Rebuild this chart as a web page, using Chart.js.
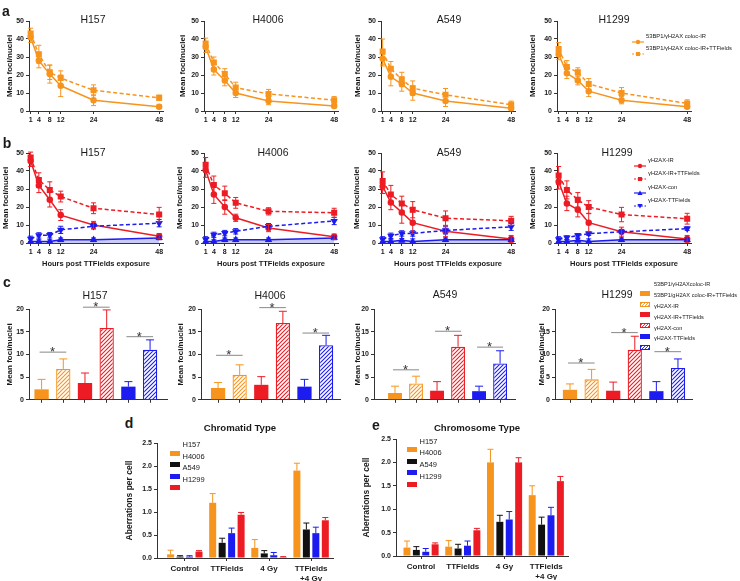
<!DOCTYPE html>
<html>
<head>
<meta charset="utf-8">
<script src="https://cdn.jsdelivr.net/npm/chart.js@4.4.0/dist/chart.umd.min.js"></script>
<style>
  body { margin: 0; background: #fff; width: 740px; height: 581px; position: relative; overflow: hidden;
         font-family: "Liberation Sans", Arial, sans-serif; color: #1a1a1a; }
  canvas { position: absolute; }
  .t { position: absolute; transform: translate(-50%, -50%); white-space: nowrap; }
  .l { position: absolute; transform: translateY(-50%); white-space: nowrap; }
  .sw { position: absolute; }
</style>
</head>
<body>
<script>
// ---- data ----
const hours = [1, 4, 8, 12, 24, 48];
const cellLines = ['H157', 'H4006', 'A549', 'H1299'];

// a: 53BP1/γH2AX co-localised foci
const colocIR = [
  [41, 28, 20.5, 14, 6, 2.4],
  [35.5, 23, 17, 10, 5.5, 2.8],
  [29, 19, 15, 10, 5.5, 1.5],
  [31.5, 21, 17, 11, 6, 2.4]
];
const colocIRErr = [
  [3, 4, 5, 6, 3, 1],
  [3, 3, 3, 2.5, 2, 1],
  [4, 5, 4, 4, 3, 1],
  [3, 3, 2.5, 3, 2, 1]
];
const colocIRTT = [
  [43, 31.5, 21.5, 18.3, 11.5, 7.3],
  [37.5, 27, 20.5, 13, 9.5, 6],
  [33, 23.5, 17.5, 12.7, 9, 3.5],
  [34.5, 24.5, 21.5, 15, 10, 4.2]
];
const colocIRTTErr = [
  [3, 5, 4, 4, 3, 1.5],
  [3, 3, 3, 3, 2.5, 2],
  [7, 4, 4, 4, 3.5, 2],
  [3.5, 3.5, 2.5, 3, 3, 2]
];

// b: γH2AX foci
const h2axIR = [
  [45.5, 32, 24, 15.5, 10, 3.8],
  [40.5, 27, 20, 14, 8.3, 3.5],
  [31.5, 22.5, 17, 11.3, 6.5, 2.2],
  [34, 22, 18.5, 11.3, 6.3, 2.2]
];
const h2axIRErr = [
  [3, 4, 4, 3, 2, 1.5],
  [4, 5, 4, 2, 2, 1.5],
  [4, 4, 6, 6, 3, 2],
  [4, 4, 4, 5, 2.5, 2]
];
const h2axIRTT = [
  [47.5, 35, 29.5, 25.8, 19.3, 15.8],
  [43.5, 32.2, 27.6, 22.3, 17.6, 16.8],
  [34.5, 27, 22, 18.5, 13.8, 12.3],
  [37.5, 29.5, 24, 20, 15.8, 13.5]
];
const h2axIRTTErr = [
  [3, 4, 4.5, 3, 3, 4],
  [4, 5, 4, 3, 2, 2.5],
  [5, 5, 4, 4.5, 4, 2.5],
  [5, 5, 4, 3.5, 4, 3]
];
const h2axCon = [
  [0.8, 0.8, 0.8, 1.8, 1.8, 2.8],
  [0.8, 0.8, 1.8, 1.8, 1.8, 2.8],
  [0.8, 0.8, 1.5, 0.8, 1.8, 1.8],
  [0.8, 0.8, 1.5, 0.8, 1.8, 1.8]
];
const h2axConErr = [
  [1.5, 1, 1, 1, 1, 1],
  [1.5, 1, 1, 1, 1, 1],
  [1.5, 1, 1, 1.5, 1, 1],
  [1.5, 1, 1, 1.5, 1, 1]
];
const h2axTT = [
  [2.3, 4.2, 4.3, 7.3, 9.3, 11],
  [2, 4.5, 5.5, 6.5, 9.3, 12.2],
  [2, 4, 5.3, 5.3, 7, 9],
  [2, 3, 4.2, 5.2, 6.2, 8]
];
const h2axTTErr = [
  [1.5, 1.5, 1.5, 2, 1.5, 2],
  [1.5, 1.5, 1.5, 1.5, 1.5, 2],
  [1.5, 1.5, 1.5, 1.5, 2, 2],
  [1.5, 1, 1, 1, 1, 1]
];

// c: foci at 24 h (order: coloc-IR, coloc-IR+TTF, γH2AX-IR, γH2AX-IR+TTF, con, TTF)
const fociBars = [
  [2.3, 6.8, 3.7, 15.8, 2.9, 11.0],
  [2.6, 5.5, 3.3, 16.9, 2.9, 12.0],
  [1.5, 3.6, 2.0, 11.7, 1.9, 8.0],
  [2.2, 4.5, 2.0, 11.0, 1.9, 7.0]
];
const fociBarsErr = [
  [2.2, 2.2, 2.2, 4.0, 1.1, 2.2],
  [1.2, 2.2, 1.8, 2.6, 1.6, 2.2],
  [1.5, 1.6, 2.0, 2.5, 1.1, 2.8],
  [1.3, 2.2, 1.9, 3.0, 2.1, 2.0]
];
const sigLevels = [
  [10.5, 20.4, 13.9],
  [9.8, 20.3, 14.7],
  [6.6, 15.1, 11.6],
  [8.1, 14.8, 10.6]
];
const fociLegend = ['53BP1/γH2AXcoloc-IR', '53BP1/gH2AX coloc-IR+TTFields', 'γH2AX-IR',
                    'γH2AX-IR+TTFields', 'γH2AX-con', 'γH2AX-TTFields'];

// d, e: aberrations per cell
const treatments = ['Control', 'TTFields', '4 Gy', ['TTFields', '+4 Gy']];
const chromatid = [
  [0.08, 1.2, 0.22, 1.9],
  [0.03, 0.33, 0.1, 0.62],
  [0.03, 0.54, 0.06, 0.54],
  [0.14, 0.94, 0.02, 0.82]
];
const chromatidErr = [
  [0.09, 0.2, 0.18, 0.16],
  [0.02, 0.1, 0.06, 0.14],
  [0.02, 0.11, 0.06, 0.13],
  [0.02, 0.05, 0.01, 0.06]
];
const chromosome = [
  [0.18, 0.2, 2.0, 1.3],
  [0.13, 0.16, 0.73, 0.67],
  [0.09, 0.22, 0.78, 0.87],
  [0.25, 0.55, 2.0, 1.6]
];
const chromosomeErr = [
  [0.14, 0.13, 0.28, 0.2],
  [0.07, 0.09, 0.14, 0.16],
  [0.07, 0.1, 0.17, 0.17],
  [0.03, 0.04, 0.1, 0.1]
];

// ---- style ----
const FONT = '"Liberation Sans", Arial, sans-serif';
const AX = '#333';
const ORANGE = '#f7941d';
const RED = '#ed1c24';
const BLUE = '#1c1cf0';
const BLACK = '#111';
const cellColors = [ORANGE, BLACK, BLUE, RED];

const hatch = (color) => {
  const c = document.createElement('canvas');
  c.width = 4; c.height = 4;
  const g = c.getContext('2d');
  g.fillStyle = '#fff';
  g.fillRect(0, 0, 4, 4);
  g.strokeStyle = color;
  g.lineWidth = 1.1;
  g.beginPath();
  g.moveTo(0, 4); g.lineTo(4, 0);
  g.moveTo(-1, 1); g.lineTo(1, -1);
  g.moveTo(3, 5); g.lineTo(5, 3);
  g.stroke();
  return g.createPattern(c, 'repeat');
};

// error bars drawn from the dataset's own scale
const errorBars = {
  id: 'errorBars',
  afterDatasetsDraw(chart) {
    const ctx = chart.ctx;
    const ys = chart.scales.y;
    chart.data.datasets.forEach((ds, i) => {
      if (!ds.errors) return;
      const meta = chart.getDatasetMeta(i);
      ctx.save();
      ctx.lineWidth = 1;
      meta.data.forEach((el, j) => {
        const e = ds.errors[j];
        const v = ds.data[j].y;
        const col = Array.isArray(ds.errColor) ? ds.errColor[j] : ds.errColor;
        const hi = ys.getPixelForValue(v + e);
        const lo = ds.upOnly ? el.y : ys.getPixelForValue(Math.max(v - e, 0));
        const cap = ds.cap || 2.5;
        ctx.strokeStyle = col;
        ctx.beginPath();
        ctx.moveTo(el.x, lo); ctx.lineTo(el.x, hi);
        ctx.moveTo(el.x - cap, hi); ctx.lineTo(el.x + cap, hi);
        if (!ds.upOnly) { ctx.moveTo(el.x - cap, lo); ctx.lineTo(el.x + cap, lo); }
        ctx.stroke();
      });
      ctx.restore();
    });
  }
};

// significance lines with a star over each bar pair
const sigMarks = {
  id: 'sigMarks',
  afterDatasetsDraw(chart, args, opts) {
    if (!opts.levels) return;
    const { ctx, scales: { x, y } } = chart;
    ctx.save();
    opts.levels.forEach((h, k) => {
      const a = x.getPixelForValue(2 * k + 1);
      const b = x.getPixelForValue(2 * k + 2);
      const py = y.getPixelForValue(h);
      ctx.strokeStyle = '#888';
      ctx.lineWidth = 1;
      ctx.beginPath();
      ctx.moveTo(a - 2, py); ctx.lineTo(b + 3, py);
      ctx.stroke();
      ctx.fillStyle = '#333';
      ctx.font = '13px ' + FONT;
      ctx.textAlign = 'center';
      ctx.fillText('*', (a + b) / 2, py + 4);
    });
    ctx.restore();
  }
};

// ---- layout helpers ----
const mkCanvas = (left, top, w, h) => {
  const c = document.createElement('canvas');
  c.width = w; c.height = h;
  c.style.left = left + 'px'; c.style.top = top + 'px';
  c.style.width = w + 'px'; c.style.height = h + 'px';
  document.body.appendChild(c);
  return c;
};

const addText = (txt, x, y, css, cls) => {
  const d = document.createElement('div');
  d.className = cls || 't';
  d.textContent = txt;
  d.style.left = x + 'px';
  d.style.top = y + 'px';
  Object.assign(d.style, css || {});
  document.body.appendChild(d);
};

let patId = 0;
const addSwatch = (x, y, w, h, inner) => {
  const d = document.createElement('div');
  d.className = 'sw';
  d.style.left = x + 'px'; d.style.top = y + 'px';
  d.innerHTML = `<svg width="${w}" height="${h}" xmlns="http://www.w3.org/2000/svg">${inner}</svg>`;
  document.body.appendChild(d);
};

const markerSvg = (kind, cx, cy, color) => {
  if (kind === 'circle') return `<circle cx="${cx}" cy="${cy}" r="2.2" fill="${color}"/>`;
  if (kind === 'rect') return `<rect x="${cx - 2}" y="${cy - 2}" width="4" height="4" fill="${color}"/>`;
  if (kind === 'tri') return `<path d="M${cx},${cy - 2.5} L${cx + 2.6},${cy + 2} L${cx - 2.6},${cy + 2} Z" fill="${color}"/>`;
  return `<path d="M${cx},${cy + 2.5} L${cx + 2.6},${cy - 2} L${cx - 2.6},${cy - 2} Z" fill="${color}"/>`;
};

const lineLegend = (x, y, color, dashed, marker, text, fs) => {
  const dash = dashed ? ' stroke-dasharray="2,1.5"' : '';
  addSwatch(x, y - 4, 12, 8,
    `<line x1="0" y1="4" x2="12" y2="4" stroke="${color}" stroke-width="1.2"${dash}/>` + markerSvg(marker, 6, 4, color));
  addText(text, x + 14, y, { fontSize: fs + 'px' }, 'l');
};

const boxLegend = (x, y, w, h, color, hatched, text, fs, gap) => {
  let inner;
  if (hatched) {
    const id = 'hp' + (patId++);
    inner = `<defs><pattern id="${id}" width="3" height="3" patternUnits="userSpaceOnUse">` +
      `<rect width="3" height="3" fill="#fff"/><path d="M0,3 L3,0 M-1,1 L1,-1 M2,4 L4,2" stroke="${color}" stroke-width="0.9"/></pattern></defs>` +
      `<rect x="0.5" y="0.5" width="${w - 1}" height="${h - 1}" fill="url(#${id})" stroke="${color}" stroke-width="1"/>`;
  } else {
    inner = `<rect x="0" y="0" width="${w}" height="${h}" fill="${color}"/>`;
  }
  addSwatch(x, y - h / 2, w, h, inner);
  addText(text, x + w + gap, y, { fontSize: fs + 'px' }, 'l');
};

const tickFont = { family: FONT, size: 7, weight: 'bold' };
const axisGrid = { drawOnChartArea: false, drawTicks: true, tickLength: 3, color: AX, lineWidth: 1, offset: false };
const axisBorder = { display: true, color: AX, width: 1 };

// area = chart area in page pixels; titleX = centre of y title
const frame = (area, titleX, titleSize, xH) => {
  const padT = 10, padR = 10;
  const left = Math.round(titleX - titleSize * 0.6);
  return {
    left, top: area.top - padT,
    w: area.right + padR - left,
    h: area.bottom + xH - area.top + padT,
    yW: area.left - left, xH, padT, padR
  };
};

const baseOptions = (f) => ({
  responsive: false,
  animation: false,
  devicePixelRatio: 1,
  layout: { padding: { top: f.padT, right: f.padR, left: 0, bottom: 0 } },
  plugins: { legend: { display: false }, tooltip: { enabled: false } }
});

const yTitle = (text, size) => ({
  display: true, text, color: '#1a1a1a', padding: { top: 0, bottom: 0 },
  font: { family: FONT, size, weight: 'bold' }
});

// ---- line charts (rows a and b) ----
const lineChart = (area, titleX, withXTitle, datasets) => {
  const xH = withXTitle ? 25 : 14;
  const f = frame(area, titleX, 8, xH);
  const cv = mkCanvas(f.left, f.top, f.w, f.h);
  const opts = baseOptions(f);
  opts.scales = {
    x: {
      type: 'linear', min: 0.4, max: 49.4, offset: false,
      afterBuildTicks: (s) => { s.ticks = hours.map((v) => ({ value: v })); },
      afterFit: (s) => { s.height = xH; },
      grid: axisGrid, border: axisBorder,
      ticks: { font: tickFont, color: '#1a1a1a', padding: 2, autoSkip: false, maxRotation: 0 },
      title: {
        display: withXTitle, text: 'Hours post TTFields exposure', color: '#1a1a1a',
        padding: { top: 0, bottom: 0 }, font: { family: FONT, size: 7.5, weight: 'bold' }
      }
    },
    y: {
      min: 0, max: 50,
      afterFit: (s) => { s.width = f.yW; },
      grid: axisGrid, border: axisBorder,
      ticks: { stepSize: 10, font: tickFont, color: '#1a1a1a', padding: 2 },
      title: yTitle('Mean foci/nuclei', 8)
    }
  };
  return new Chart(cv, { type: 'line', data: { datasets }, options: opts, plugins: [errorBars] });
};

const series = (vals, errs, color, dashed, marker, extra) => Object.assign({
  data: vals.map((v, i) => ({ x: hours[i], y: v })),
  errors: errs, errColor: color,
  borderColor: color, backgroundColor: color,
  pointBackgroundColor: color, pointBorderColor: color,
  borderWidth: 1.5, borderDash: dashed ? [4, 2.5] : [],
  pointStyle: marker, pointRadius: marker === 'rect' ? 3.2 : 2.5,
  tension: 0, fill: false, clip: false
}, extra || {});

const areaA = [29, 204, 381, 557].map((l) => ({ left: l, right: l + 134, top: 21, bottom: 111 }));
const areaB = [29, 204, 381, 557].map((l) => ({ left: l, right: l + 134, top: 153, bottom: 243 }));
const titleXA = [10, 183, 358, 533];
const titleXB = [6, 180, 357, 533];

cellLines.forEach((name, k) => {
  lineChart(areaA[k], titleXA[k], false, [
    series(colocIR[k], colocIRErr[k], ORANGE, false, 'circle'),
    series(colocIRTT[k], colocIRTTErr[k], ORANGE, true, 'rect')
  ]);
  lineChart(areaB[k], titleXB[k], true, [
    series(h2axCon[k], h2axConErr[k], BLUE, false, 'triangle',
      { fill: 'origin', backgroundColor: 'rgba(80,80,225,0.3)', pointRadius: 2.8 }),
    series(h2axTT[k], h2axTTErr[k], BLUE, true, 'triangle', { pointRotation: 180, pointRadius: 2.8 }),
    series(h2axIR[k], h2axIRErr[k], RED, false, 'circle'),
    series(h2axIRTT[k], h2axIRTTErr[k], RED, true, 'rect')
  ]);
});

// ---- bar charts (row c) ----
const cFill = [ORANGE, hatch(ORANGE), RED, hatch(RED), BLUE, hatch(BLUE)];
const cLine = [ORANGE, ORANGE, RED, RED, BLUE, BLUE];
const cBorder = [0, 1.3, 0, 1.3, 0, 1.3];
const areaC = [
  { left: 29, right: 167, top: 309, bottom: 400, xmin: 0.42, xmax: 6.78 },
  { left: 201, right: 340, top: 309, bottom: 400, xmin: 0.21, xmax: 6.645 },
  { left: 374, right: 515, top: 309, bottom: 400, xmin: 0.0, xmax: 6.71 },
  { left: 555, right: 692, top: 309, bottom: 400, xmin: 0.305, xmax: 6.65 }
];
const titleXC = [10, 181, 358, 542];

cellLines.forEach((name, k) => {
  const a = areaC[k];
  const f = frame(a, titleXC[k], 8, 6);
  const cv = mkCanvas(f.left, f.top, f.w, f.h);
  const opts = baseOptions(f);
  opts.plugins.sigMarks = { levels: sigLevels[k] };
  opts.scales = {
    x: {
      type: 'linear', min: a.xmin, max: a.xmax, offset: false,
      afterBuildTicks: (s) => { s.ticks = [1, 2, 3, 4, 5, 6].map((v) => ({ value: v })); },
      afterFit: (s) => { s.height = 6; },
      grid: axisGrid, border: axisBorder,
      ticks: { display: false }
    },
    y: {
      min: 0, max: 20,
      afterFit: (s) => { s.width = f.yW; },
      grid: axisGrid, border: axisBorder,
      ticks: { stepSize: 5, font: tickFont, color: '#1a1a1a', padding: 2 },
      title: yTitle('Mean foci/nuclei', 8)
    }
  };
  new Chart(cv, {
    type: 'bar',
    data: {
      datasets: [{
        data: fociBars[k].map((v, i) => ({ x: i + 1, y: v })),
        errors: fociBarsErr[k], errColor: cLine, upOnly: true, cap: 4,
        backgroundColor: cFill, borderColor: cLine, borderWidth: cBorder,
        categoryPercentage: 1, barPercentage: 0.66, clip: false
      }]
    },
    options: opts,
    plugins: [errorBars, sigMarks]
  });
});

// ---- grouped bar charts (rows d, e) ----
const aberrChart = (area, titleX, vals, errs) => {
  const f = frame(area, titleX, 8.5, 24);
  const cv = mkCanvas(f.left, f.top, f.w, f.h);
  const opts = baseOptions(f);
  opts.scales = {
    x: {
      type: 'linear', min: area.xmin, max: area.xmax, offset: false,
      afterBuildTicks: (s) => { s.ticks = [1, 2, 3, 4].map((v) => ({ value: v })); },
      afterFit: (s) => { s.height = 24; },
      grid: axisGrid, border: axisBorder,
      ticks: {
        font: { family: FONT, size: 8, weight: 'bold' }, color: '#1a1a1a', padding: 3,
        autoSkip: false, maxRotation: 0,
        callback: (v) => treatments[v - 1]
      }
    },
    y: {
      min: 0, max: 2.5,
      afterFit: (s) => { s.width = f.yW; },
      grid: axisGrid, border: axisBorder,
      ticks: { stepSize: 0.5, font: tickFont, color: '#1a1a1a', padding: 2, callback: (v) => v.toFixed(1) },
      title: yTitle('Aberrations per cell', 8.5)
    }
  };
  new Chart(cv, {
    type: 'bar',
    data: {
      datasets: cellLines.map((name, j) => ({
        label: name,
        data: vals[j].map((v, i) => ({ x: i + 1, y: v })),
        errors: errs[j], errColor: cellColors[j], upOnly: true, cap: 3,
        backgroundColor: cellColors[j], borderWidth: 0,
        categoryPercentage: 0.9, barPercentage: 0.74, clip: false
      }))
    },
    options: opts,
    plugins: [errorBars]
  });
};

aberrChart({ left: 157, right: 333, top: 443, bottom: 558, xmin: 0.34, xmax: 4.52 }, 130, chromatid, chromatidErr);
aberrChart({ left: 396, right: 568, top: 439, bottom: 556, xmin: 0.40, xmax: 4.52 }, 367, chromosome, chromosomeErr);

// ---- titles, letters, legends ----
const titleCss = { fontSize: '10.5px' };
[[93, 19], [268, 19], [449, 19], [614, 19]].forEach(([x, y], k) => addText(cellLines[k], x, y, titleCss));
[[93, 152], [273, 152], [449, 152], [617, 152]].forEach(([x, y], k) => addText(cellLines[k], x, y, titleCss));
[[95, 295], [270, 295], [445, 294], [617, 294]].forEach(([x, y], k) => addText(cellLines[k], x, y, titleCss));

const letterCss = { fontSize: '14px', fontWeight: 'bold' };
addText('a', 6, 11, letterCss);
addText('b', 7, 143, letterCss);
addText('c', 7, 282, letterCss);
addText('d', 129, 423, letterCss);
addText('e', 376, 425, letterCss);

const panelTitleCss = { fontSize: '9.6px', fontWeight: 'bold' };
addText('Chromatid Type', 240, 427, panelTitleCss);
addText('Chromosome Type', 477, 427, panelTitleCss);

lineLegend(632, 36, ORANGE, false, 'circle', '53BP1/γH2AX coloc-IR', 5.8);
lineLegend(632, 48, ORANGE, true, 'rect', '53BP1/γH2AX coloc-IR+TTFields', 5.8);

lineLegend(634, 160, RED, false, 'circle', 'γH2AX-IR', 5.8);
lineLegend(634, 173.3, RED, true, 'rect', 'γH2AX-IR+TTFields', 5.8);
lineLegend(634, 186.7, BLUE, false, 'tri', 'γH2AX-con', 5.8);
lineLegend(634, 200, BLUE, true, 'trid', 'γH2AX-TTFields', 5.8);

[284.3, 295, 305.7, 316.7, 327.5, 338.3].forEach((y, i) =>
  boxLegend(640, y, 10, 5, cLine[i], i % 2 === 1, fociLegend[i], 5.6, 4));

[444, 455.5, 467, 478.5].forEach((y, j) =>
  boxLegend(170, y, 10, 5, cellColors[j], false, cellLines[j], 7.5, 2.5));
[440.7, 452.3, 463.9, 475.5].forEach((y, j) =>
  boxLegend(407, y, 10, 5, cellColors[j], false, cellLines[j], 7.5, 2.5));
</script>
</body>
</html>
